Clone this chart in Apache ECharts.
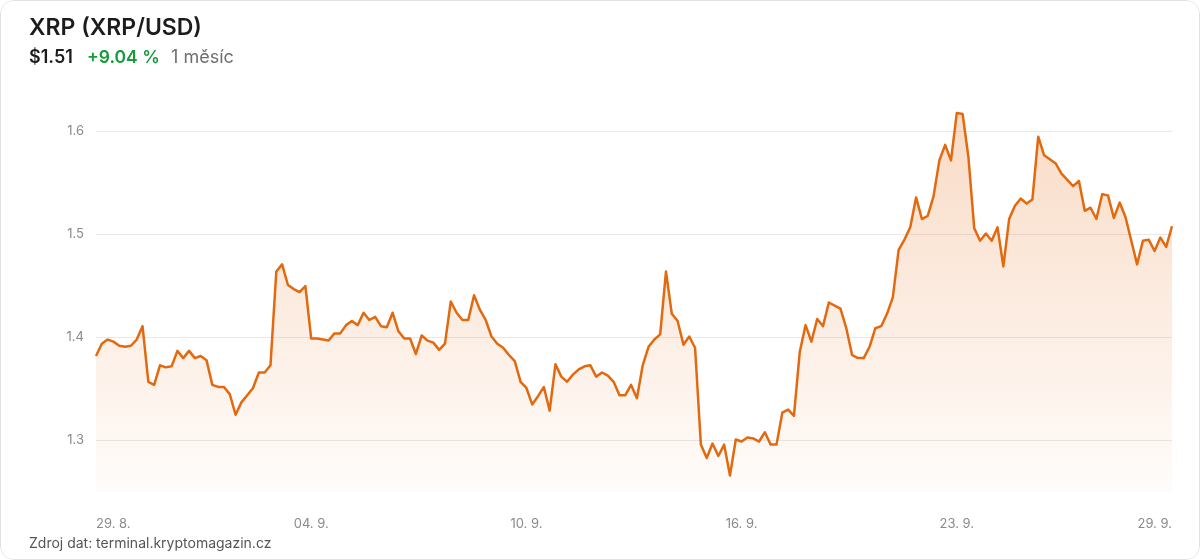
<!DOCTYPE html>
<html>
<head>
<meta charset="utf-8">
<script src="https://cdn.jsdelivr.net/npm/echarts@6/dist/echarts.min.js"></script>
<style>
  html, body { margin: 0; padding: 0; background: #ffffff; }
  #card { box-sizing: border-box; width: 1200px; height: 560px; border: 1px solid #e2e2e2; border-radius: 14px; overflow: hidden; background: #fff; }
  #chart { width: 1198px; height: 558px; }
</style>
</head>
<body>
<div id="card"><div id="chart"></div></div>
<script>
// ---- data ----
const titleText = 'XRP (XRP/USD)';
const priceText = '$1.51';
const changeText = '+9.04 %';
const periodText = '1 měsíc';
const sourceText = 'Zdroj dat: terminal.kryptomagazin.cz';

// 4-hour samples, Aug 29 08:00 (UTC) .. Sep 29 (186 points)
const startTime = Date.UTC(2025, 7, 29, 8, 0, 0);
const stepHours = 4;

const prices = [
  1.382, 1.394, 1.398, 1.396, 1.392, 1.391, 1.392, 1.398, 1.411, 1.357,
  1.354, 1.373, 1.371, 1.372, 1.387, 1.380, 1.387, 1.380, 1.382, 1.378,
  1.354, 1.352, 1.352, 1.345, 1.325, 1.337, 1.344, 1.351, 1.366, 1.366,
  1.373, 1.464, 1.471, 1.451, 1.447, 1.444, 1.450, 1.399, 1.399, 1.398,
  1.397, 1.404, 1.404, 1.412, 1.416, 1.412, 1.424, 1.417, 1.420, 1.411,
  1.410, 1.424, 1.406, 1.399, 1.399, 1.384, 1.402, 1.397, 1.395, 1.388,
  1.394, 1.435, 1.424, 1.417, 1.417, 1.441, 1.427, 1.417, 1.401, 1.394,
  1.390, 1.383, 1.377, 1.357, 1.351, 1.335, 1.343, 1.352, 1.329, 1.374,
  1.362, 1.357, 1.364, 1.369, 1.372, 1.373, 1.362, 1.366, 1.363, 1.357,
  1.344, 1.344, 1.354, 1.341, 1.373, 1.391, 1.398, 1.403, 1.464, 1.423,
  1.416, 1.393, 1.401, 1.390, 1.296, 1.283, 1.297, 1.285, 1.296, 1.266,
  1.301, 1.299, 1.303, 1.302, 1.299, 1.308, 1.296, 1.296, 1.327, 1.330,
  1.324, 1.386, 1.412, 1.396, 1.418, 1.411, 1.434, 1.431, 1.428, 1.409,
  1.383, 1.380, 1.380, 1.391, 1.409, 1.411, 1.423, 1.439, 1.485, 1.495,
  1.507, 1.536, 1.515, 1.518, 1.537, 1.572, 1.587, 1.572, 1.618, 1.617,
  1.575, 1.506, 1.494, 1.501, 1.494, 1.507, 1.469, 1.515, 1.528, 1.535,
  1.530, 1.534, 1.595, 1.577, 1.573, 1.569, 1.559, 1.553, 1.547, 1.552,
  1.523, 1.526, 1.515, 1.539, 1.538, 1.516, 1.531, 1.517, 1.494, 1.471,
  1.494, 1.495, 1.484, 1.497, 1.488, 1.508
];

const categories = prices.map((_, i) => String(startTime + i * stepHours * 3600 * 1000));
const yTicks = [1.3, 1.4, 1.5, 1.6];
const yMin = 1.25, yMax = 1.65;

// ---- chart ----
const chart = echarts.init(document.getElementById('chart'), null, { renderer: 'canvas' });
const FONT = 'Inter, "Noto Sans", sans-serif';

function fmtDate(v) {
  const d = new Date(Number(v));
  const day = String(d.getUTCDate()).padStart(2, '0');
  return day + '. ' + (d.getUTCMonth() + 1) + '.';
}

chart.setOption({
  animation: false,
  backgroundColor: '#ffffff',
  textStyle: { fontFamily: FONT },
  graphic: [
    { type: 'text', left: 28, top: 16, style: { text: titleText, font: '600 23px ' + FONT, fill: '#1c1c1c' } },
    { type: 'text', left: 28, top: 48, style: { text: priceText, font: '600 18px ' + FONT, fill: '#1c1c1c' } },
    { type: 'text', left: 86, top: 48, style: { text: changeText, font: '600 17.5px ' + FONT, fill: '#1a9a3e' } },
    { type: 'text', left: 170, top: 48, style: { text: periodText, font: '400 18px ' + FONT, fill: '#6e6e6e' } },
    { type: 'text', left: 28, top: 536, style: { text: sourceText, font: '400 14px ' + FONT, fill: '#555555' } }
  ],
  grid: { left: 95, right: 27, top: 79, bottom: 67, containLabel: false },
  xAxis: {
    type: 'category',
    data: categories,
    boundaryGap: false,
    axisLine: { show: false },
    axisTick: { show: false },
    splitLine: { show: false },
    axisLabel: {
      interval: 36,
      margin: 26,
      color: '#8a8a8a',
      fontSize: 13,
      fontFamily: FONT,
      alignMinLabel: 'left',
      alignMaxLabel: 'right',
      formatter: fmtDate
    }
  },
  yAxis: {
    type: 'value',
    min: yMin,
    max: yMax,
    splitNumber: 4,
    axisLine: { show: false },
    axisTick: { show: false },
    axisLabel: {
      color: '#8a8a8a',
      fontSize: 13,
      fontFamily: FONT,
      margin: 12,
      showMinLabel: false,
      showMaxLabel: false,
      formatter: v => (yTicks.some(t => Math.abs(t - v) < 1e-6) ? String(Number(v.toFixed(2))) : '')
    },
    splitLine: {
      showMinLine: false,
      showMaxLine: false,
      lineStyle: { color: '#e8e8e8', width: 1 }
    }
  },
  series: [{
    type: 'line',
    data: prices,
    showSymbol: false,
    symbol: 'none',
    smooth: false,
    lineStyle: { color: '#e3690f', width: 2.5, join: 'round' },
    itemStyle: { color: '#e3690f' },
    areaStyle: {
      color: new echarts.graphic.LinearGradient(0, 0, 0, 1, [
        { offset: 0, color: 'rgba(232, 120, 40, 0.38)' },
        { offset: 1, color: 'rgba(232, 120, 40, 0.03)' }
      ])
    }
  }]
});
</script>
</body>
</html>
